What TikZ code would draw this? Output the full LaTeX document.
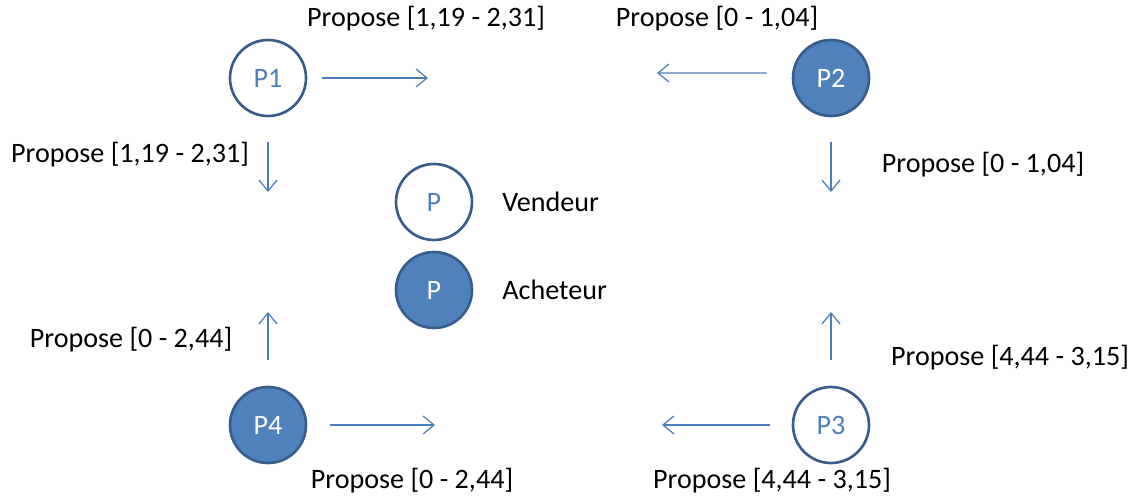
\documentclass[tikz,border=0pt]{standalone}
\usepackage{fontspec}
\setmainfont{Carlito}
\usetikzlibrary{arrows.meta,positioning}
\definecolor{accblue}{HTML}{4F81BD}
\definecolor{accdark}{HTML}{385D8A}
\definecolor{arrblue}{HTML}{4A7EBB}
\tikzset{
  vendeur/.style={circle,draw=accdark,line width=1.5pt,fill=white,text=accblue,minimum size=1.52cm,inner sep=0pt},
  acheteur/.style={circle,draw=accdark,line width=1.5pt,fill=accblue,text=white,minimum size=1.52cm,inner sep=0pt},
  offre/.style={-{Straight Barb[length=2.2mm,width=3.6mm]},arrblue,line width=0.7pt},
  lbl/.style={font=\fontsize{16}{19}\selectfont,inner sep=0pt}
}
\begin{document}
\begin{tikzpicture}[x=0.02cm,y=-0.02cm,font=\fontsize{16}{19}\selectfont]
            \useasboundingbox (0,0) rectangle (1135,497);
            % Participants
            \node[vendeur] (p1) at (268,78) {P1};
            \node[acheteur] (p2) at (831,78) {P2};
            \node[vendeur] (p3) at (831,425) {P3};
            \node[acheteur] (p4) at (268,425) {P4};
            
            % Legend
            \node[vendeur] (lv) at (434,202) {P};
            \node[acheteur] (la) at (434,290) {P};
            \node[lbl,anchor=west] (tv) at (502,202) {Vendeur};
            \node[lbl,anchor=west] (ta) at (502,290) {Acheteur};
            
            % Arrow ends
            \coordinate (p1r) at (428,78);
            \coordinate (p1d) at (268,192);
            \coordinate (p2l) at (657,73);
            \coordinate (p2d) at (831,192);
            \coordinate (p3l) at (662,425);
            \coordinate (p3u) at (831,312);
            \coordinate (p4r) at (435,425);
            \coordinate (p4u) at (268,312);
            
            % Offers
            \draw[offre,shorten <=0.3cm] (p1) -- (p1r);
            \draw[offre,shorten <=0.5cm] (p1) -- (p1d);
            \draw[offre,shorten <=0.5cm] ([yshift=0.1cm]p2.west) -- (p2l);
            \draw[offre,shorten <=0.5cm] (p2) -- (p2d);
            \draw[offre,shorten <=0.44cm] (p3) -- (p3l);
            \draw[offre,shorten <=0.52cm] (p3) -- (p3u);
            \draw[offre,shorten <=0.46cm] (p4) -- (p4r);
            \draw[offre,shorten <=0.52cm] (p4) -- (p4u);
            
            % Labels
            \node[lbl] (o1) at (426,19) {Propose [1,19 - 2,31]};
            \node[lbl] (o2) at (130,155) {Propose [1,19 - 2,31]};
            \node[lbl] (o3) at (717,19) {Propose [0 - 1,04]};
            \node[lbl] (o4) at (983,165) {Propose [0 - 1,04]};
            \node[lbl] (o5) at (1010,358) {Propose [4,44 - 3,15]};
            \node[lbl] (o6) at (772,481) {Propose [4,44 - 3,15]};
            \node[lbl] (o7) at (412,481) {Propose [0 - 2,44]};
            \node[lbl] (o8) at (131,340) {Propose [0 - 2,44]};
\end{tikzpicture}
\end{document}
